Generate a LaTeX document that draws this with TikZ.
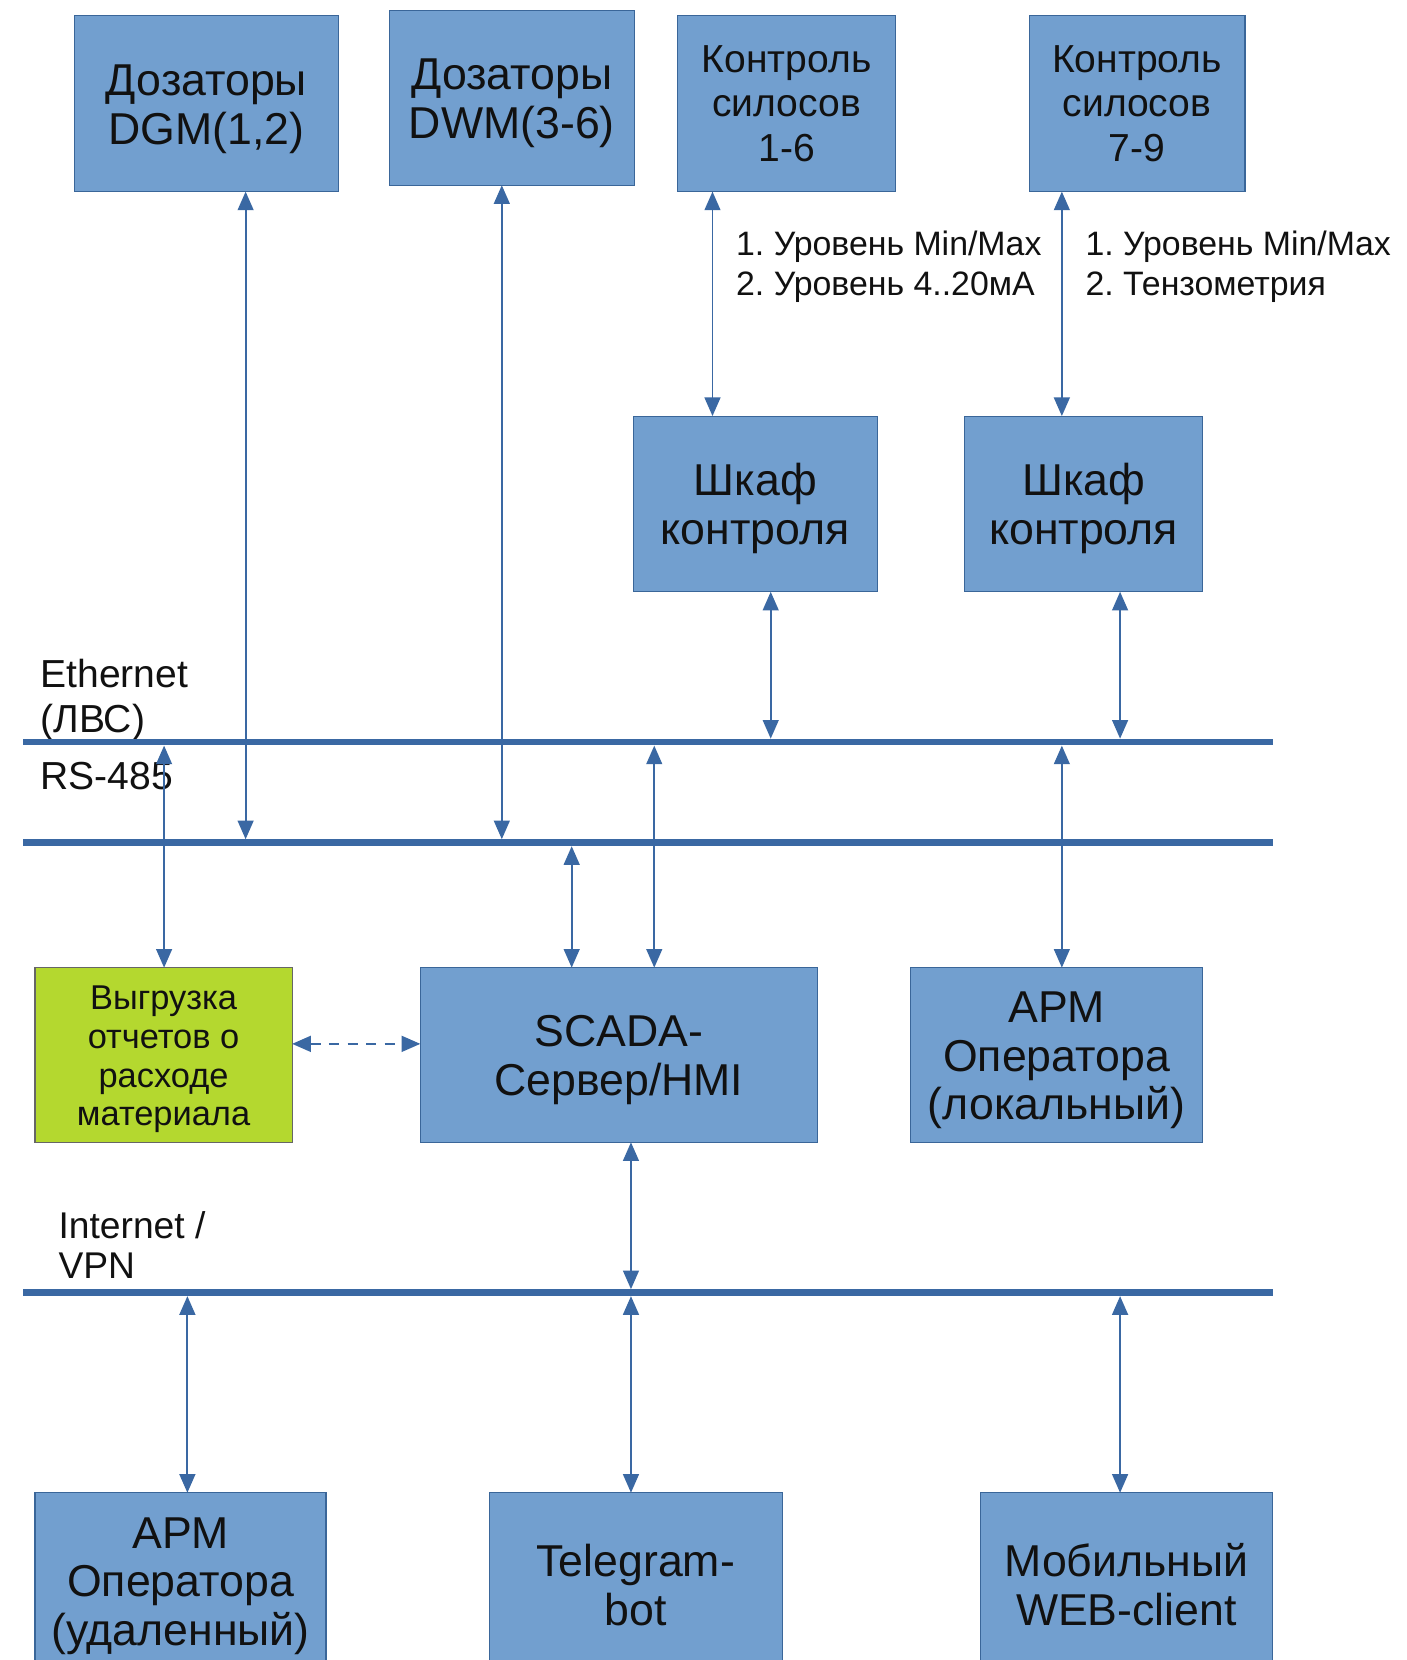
\documentclass[tikz,border=0pt]{standalone}
\usepackage{fontspec}
\setmainfont{Liberation Sans}
\usetikzlibrary{arrows.meta}
\definecolor{boxfill}{HTML}{729FCF}
\definecolor{boxdraw}{HTML}{3A6699}
\definecolor{linecol}{HTML}{3A68A3}
\definecolor{greenfill}{HTML}{B4D82F}
\definecolor{txt}{HTML}{111111}
\newcommand{\topbig}{\rule{0pt}{22.3pt}}
\newcommand{\topgreen}{\rule{0pt}{17.7pt}}
\tikzset{
  bbox/.style={draw=boxdraw, line width=0.6pt, fill=boxfill, inner sep=0pt, outer sep=0pt, align=center, text=txt},
  gbox/.style={draw=black!60, line width=0.6pt, fill=greenfill, inner sep=0pt, outer sep=0pt, align=center, text=txt},
  bigtxt/.style={font=\fontsize{24}{26}\selectfont},
  midtxt/.style={font=\fontsize{21}{24}\selectfont},
  bus/.style={draw=linecol, line width=3.5pt},
  bi/.style={draw=linecol, line width=1pt, {Triangle[length=10pt,width=8.5pt]}-{Triangle[length=10pt,width=8.5pt]}},
  lbl/.style={anchor=west, align=left, inner sep=0pt, text=txt}
}
\frenchspacing
\begin{document}
\begin{tikzpicture}[x=0.02cm,y=-0.02cm]
\useasboundingbox (0,0) rectangle (1329,1568);
\fill[white] (0,0) rectangle (1329,1568);
\clip (0,0) rectangle (1329,1568);

% top boxes
\node[bbox,bigtxt,minimum width=5cm,minimum height=3.32cm] (dgm) at (195,98) {\topbig Дозаторы\\DGM(1,2)};
\node[bbox,bigtxt,minimum width=4.62cm,minimum height=3.3cm] (dwm) at (483.5,92.5) {\topbig Дозаторы\\DWM(3-6)};
\node[bbox,midtxt,minimum width=4.12cm,minimum height=3.32cm] (k1) at (743,98) {Контроль\\силосов\\1-6};
\node[bbox,midtxt,minimum width=4.08cm,minimum height=3.32cm] (k2) at (1074,98) {Контроль\\силосов\\7-9};

% labels
\node[lbl,font=\fontsize{18.2}{21.6}\selectfont] (l1) at (695,252) {1. Уровень Min/Max\\2. Уровень 4..20мА};
\node[lbl,font=\fontsize{18.2}{21.6}\selectfont] (l2) at (1025,252) {1. Уровень Min/Max\\2. Тензометрия};

% cabinets
\node[bbox,bigtxt,minimum width=4.62cm,minimum height=3.32cm] (sh1) at (713.5,476) {\topbig Шкаф\\контроля};
\node[bbox,bigtxt,minimum width=4.5cm,minimum height=3.32cm] (sh2) at (1023.5,476) {\topbig Шкаф\\контроля};

% bus labels
\node[lbl,font=\fontsize{21}{24}\selectfont] (leth) at (38,661) {Ethernet\\(ЛВС)};
\node[lbl,font=\fontsize{21}{24}\selectfont] (lrs) at (38,733) {RS-485};
\node[lbl,font=\fontsize{20}{21.6}\selectfont] (linet) at (55,1176) {Internet /\\VPN};

% buses
\coordinate (ethL) at (22,701); \coordinate (ethR) at (1202,701);
\coordinate (rsL) at (22,796); \coordinate (rsR) at (1202,796);
\coordinate (inL) at (22,1221); \coordinate (inR) at (1202,1221);
\draw[bus] (ethL) -- (ethR);
\draw[bus] (rsL) -- (rsR);
\draw[bus] (inL) -- (inR);

% middle boxes
\node[gbox,font=\fontsize{18.5}{20.8}\selectfont,minimum width=4.86cm,minimum height=3.3cm] (vyg) at (154.5,996.5) {\topgreen Выгрузка\\отчетов о\\расходе\\материала};
\node[bbox,bigtxt,minimum width=7.5cm,minimum height=3.3cm] (scada) at (584.5,996.5) {\topbig SCADA-\\Сервер/HMI};
\node[bbox,bigtxt,minimum width=5.52cm,minimum height=3.3cm] (apm) at (998,996.5) {\topbig АРМ\\Оператора\\(локальный)};

% bottom boxes
\node[bbox,bigtxt,minimum width=5.5cm,minimum height=3.32cm] (apmr) at (170.5,1493) {\topbig АРМ\\Оператора\\(удаленный)};
\node[bbox,bigtxt,minimum width=5.54cm,minimum height=3.32cm] (tg) at (600.5,1493) {\topbig Telegram-\\bot};
\node[bbox,bigtxt,minimum width=5.52cm,minimum height=3.32cm] (mob) at (1064,1493) {\topbig Мобильный\\WEB-client};

% arrow end coordinates
\coordinate (a1) at (232,792.7);
\coordinate (a2) at (474,792.7);
\coordinate (a3) at (673,0);
\coordinate (a4) at (1003,0);
\coordinate (a5) at (728,697.7);
\coordinate (a6) at (1058,697.7);
\coordinate (a7) at (155,704.3);
\coordinate (a8) at (540,799.3);
\coordinate (a9) at (618,704.3);
\coordinate (a10) at (1003,704.3);
\coordinate (a11) at (596,1217.7);
\coordinate (b1) at (177,1224.3);
\coordinate (b2) at (596,1224.3);
\coordinate (b3) at (1058,1224.3);
\coordinate (dsh) at (300,986);

% connectors
\draw[bi] (dgm.south -| a1) -- (a1);
\draw[bi] (dwm.south -| a2) -- (a2);
\draw[bi] (k1.south -| a3) -- (sh1.north -| a3);
\draw[bi] (k2.south -| a4) -- (sh2.north -| a4);
\draw[bi] (sh1.south -| a5) -- (a5);
\draw[bi] (sh2.south -| a6) -- (a6);
\draw[bi] (vyg.north -| a7) -- (a7);
\draw[bi] (scada.north -| a8) -- (a8);
\draw[bi] (scada.north -| a9) -- (a9);
\draw[bi] (apm.north -| a10) -- (a10);
\draw[bi] (scada.south -| a11) -- (a11);
\draw[bi] (apmr.north -| b1) -- (b1);
\draw[bi] (tg.north -| b2) -- (b2);
\draw[bi] (mob.north -| b3) -- (b3);
\draw[bi,dash pattern=on 5.5pt off 4.5pt] (vyg.east |- dsh) -- (scada.west |- dsh);
\end{tikzpicture}
\end{document}
